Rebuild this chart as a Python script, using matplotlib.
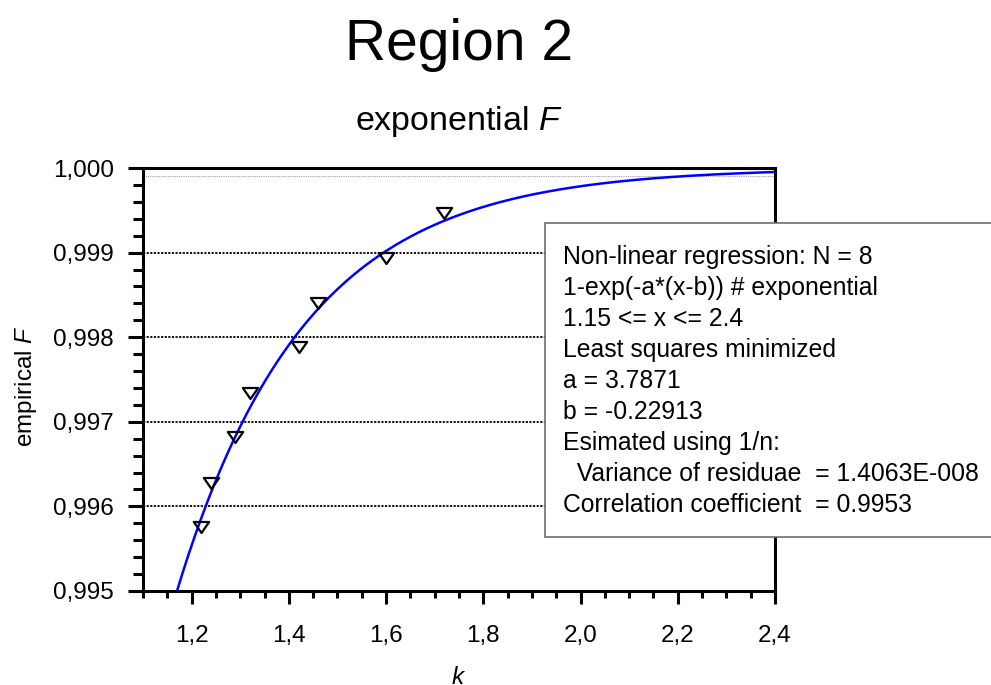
import numpy as np
import matplotlib
matplotlib.use('Agg')
import matplotlib.pyplot as plt
from matplotlib.patches import Rectangle
from matplotlib.path import Path
from matplotlib.ticker import MultipleLocator, FuncFormatter

plt.rcParams['font.family'] = ['Liberation Sans', 'DejaVu Sans']
plt.rcParams['mathtext.fontset'] = 'custom'
plt.rcParams['mathtext.rm'] = 'Liberation Sans'
plt.rcParams['mathtext.it'] = 'Liberation Sans:italic'

# empirical points
k_vals = [1.22, 1.24, 1.29, 1.32, 1.42, 1.46, 1.60, 1.72]
F_vals = [0.99576, 0.99628, 0.99682, 0.99734, 0.99789, 0.99841, 0.99894, 0.99947]

# fitted parameters (from the text box)
a_fit = 3.7871
b_fit = -0.22913

box_lines = [
    "Non-linear regression: N = 8",
    "1-exp(-a*(x-b)) # exponential",
    "1.15 <= x <= 2.4",
    "Least squares minimized",
    "a = 3.7871",
    "b = -0.22913",
    "Esimated using 1/n:",
    "  Variance of residuae  = 1.4063E-008",
    "Correlation coefficient  = 0.9953",
]

W, H = 991, 685
fig = plt.figure(figsize=(W / 100, H / 100), dpi=100)
ax = fig.add_axes([143 / W, 1 - 591 / H, 632 / W, 423 / H])

# fit curve
xs = np.linspace(1.1, 2.4, 400)
ax.plot(xs, 1 - np.exp(-a_fit * (xs - b_fit)), color='#0000ff', lw=1.8, zorder=3)

# open down-triangles, a bit flatter than the default 'v'
tri = Path([(-1, 0.72), (1, 0.72), (0, -0.72), (-1, 0.72)],
           [Path.MOVETO, Path.LINETO, Path.LINETO, Path.CLOSEPOLY])
ax.plot(k_vals, F_vals, linestyle='none', marker=tri, ms=11, mfc='none',
        mec='black', mew=1.6, zorder=4)

# dotted horizontal grid lines
for yv in [0.996, 0.997, 0.998, 0.999]:
    ax.axhline(yv, color='black', lw=1.3, linestyle=(0, (1.2, 0.8)), zorder=1)
ax.axhline(0.9999, color='#a0a0a0', lw=0.8, linestyle=(0, (1, 1)), zorder=1)

ax.set_xlim(1.1, 2.4)
ax.set_ylim(0.995, 1.000)

ax.xaxis.set_major_locator(MultipleLocator(0.2))
ax.xaxis.set_minor_locator(MultipleLocator(0.05))
ax.yaxis.set_major_locator(MultipleLocator(0.001))
ax.yaxis.set_minor_locator(MultipleLocator(0.0002))
ax.xaxis.set_major_formatter(FuncFormatter(lambda v, p: f"{v:.1f}".replace('.', ',')))
ax.yaxis.set_major_formatter(FuncFormatter(lambda v, p: f"{v:.3f}".replace('.', ',')))

for s in ax.spines.values():
    s.set_linewidth(2.2)
ax.tick_params(axis='x', which='major', length=9.5, width=2.2, pad=15, labelsize=17.5)
ax.tick_params(axis='x', which='minor', length=5, width=2.2)
ax.tick_params(axis='y', which='major', length=10.8, width=2.2, pad=10, labelsize=17.5)
ax.tick_params(axis='y', which='minor', length=7, width=2.2)

# labels and titles
fig.text(459 / W, 1 - 60 / H, "Region 2", fontsize=41, ha='center', va='baseline')
fig.text(459 / W, 1 - 130 / H, r"exponential $\it{F}$", fontsize=24.5, ha='center', va='baseline')
fig.text(26 / W, 1 - 386 / H, r"empirical $\it{F}$", fontsize=17.5, rotation=90,
         ha='center', va='center')
fig.text(459 / W, 1 - 684 / H, r"$\it{k}$", fontsize=17.5, ha='center', va='baseline')

# regression text box, runs off the right edge
rect = Rectangle((545 / W, 1 - 537 / H), 480 / W, 314 / H, transform=fig.transFigure,
                 facecolor='white', edgecolor='#707070', lw=1.2, zorder=5)
fig.add_artist(rect)
for i, line in enumerate(box_lines):
    fig.text(563 / W, 1 - (263.5 + i * 31.1) / H, line, fontsize=17.8,
             ha='left', va='baseline', zorder=6)

fig.savefig('out.png', dpi=100)
